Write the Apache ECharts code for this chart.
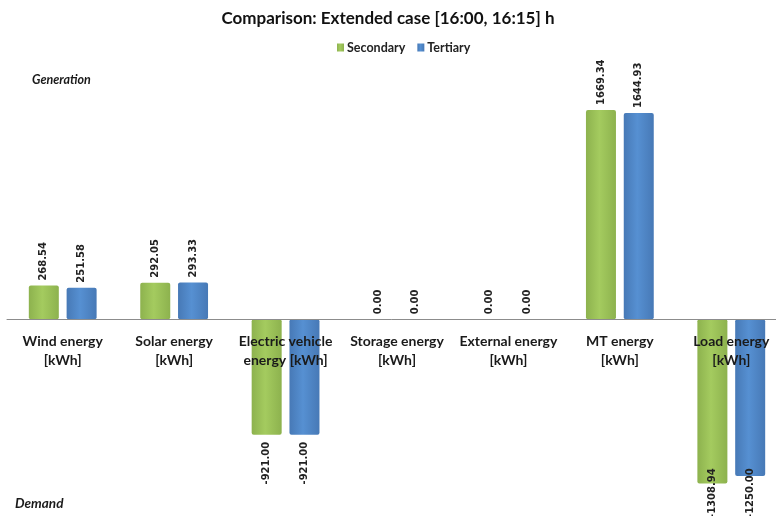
<!DOCTYPE html>
<html>
<head>
<meta charset="utf-8">
<script src="https://cdn.jsdelivr.net/npm/echarts@6/dist/echarts.min.js"></script>
<style>
  html, body { margin: 0; padding: 0; background: #fff; }
  #chart { width: 776px; height: 516px; }
</style>
</head>
<body>
<div id="chart"></div>
<script>
// Energy balance per source, kWh, for the [16:00, 16:15] interval
const categories = [
  'Wind energy\n[kWh]',
  'Solar energy\n[kWh]',
  'Electric vehicle\nenergy [kWh]',
  'Storage energy\n[kWh]',
  'External energy\n[kWh]',
  'MT energy\n[kWh]',
  'Load energy\n[kWh]'
];
const secondary = [268.54, 292.05, -921.00, 0.00, 0.00, 1669.34, -1308.94];
const tertiary = [251.58, 293.33, -921.00, 0.00, 0.00, 1644.93, -1250.00];

const labelFont = 'DejaVu Sans, Verdana, sans-serif';
const textFont = 'Lato, "Open Sans", sans-serif';

function barFill(edge, mid) {
  return new echarts.graphic.LinearGradient(0, 0, 1, 0, [
    { offset: 0, color: edge },
    { offset: 0.45, color: mid },
    { offset: 1, color: edge }
  ]);
}
const greenFill = barFill('#8db24e', '#a4cb5f');
const blueFill = barFill('#4779b6', '#5690d2');

// Labels sit past the bar end: above positive bars, below negative ones
function withLabels(values) {
  return values.map(v => ({
    value: v,
    label: v < 0
      ? { position: 'bottom', align: 'right', distance: 7 }
      : { position: 'top', align: 'left', distance: 5 }
  }));
}

const chart = echarts.init(document.getElementById('chart'), null, { renderer: 'canvas' });
const chartHeight = 516;

const valueLabel = {
  show: true,
  rotate: 90,
  verticalAlign: 'middle',
  fontFamily: labelFont,
  fontWeight: 'bold',
  fontSize: 10,
  color: '#222',
  formatter: p => p.value.toFixed(2)
};

// Keep labels of the deepest bars from running off the bottom edge.
// The labels are turned 90°, so their own x axis points up the page.
function clampLabel(params) {
  const r = params.labelRect;
  const overflow = r.y + r.height - (chartHeight + 2);
  return overflow > 0 ? { dx: overflow } : {};
}

// Value range of the plot; the zero line sits where the two grids meet
const yMin = -1600;
const yMax = 1800;
const plotTop = 93.6;
const plotBottom = -3.9;
const zeroY = 319.3;

chart.setOption({
  animation: false,
  backgroundColor: '#ffffff',
  title: {
    text: 'Comparison: Extended case [16:00, 16:15] h',
    left: 'center',
    top: 5,
    textStyle: { fontFamily: textFont, fontWeight: 'bold', fontSize: 17, color: '#111' }
  },
  legend: {
    top: 36,
    left: 332,
    itemWidth: 7,
    itemHeight: 8,
    itemGap: 12,
    icon: 'rect',
    textStyle: { fontFamily: textFont, fontWeight: 'bold', fontSize: 12.5, color: '#222', padding: [0, 0, 0, -2] },
    data: ['Secondary', 'Tertiary']
  },
  grid: [
    { left: 7, right: -11, top: plotTop, bottom: plotBottom, outerBoundsMode: 'none', containLabel: false },
    // label band: its bottom edge is the zero line
    { left: 7, right: -11, top: 0, height: zeroY, outerBoundsMode: 'none', containLabel: false }
  ],
  xAxis: [
    {
      type: 'category',
      gridIndex: 0,
      data: categories,
      axisLine: { show: false },
      axisTick: { show: false },
      axisLabel: { show: false }
    },
    {
      type: 'category',
      gridIndex: 1,
      position: 'bottom',
      data: categories,
      z: 10,
      axisLine: { show: true, lineStyle: { color: '#8c8c8c', width: 1 } },
      axisTick: { show: false },
      axisLabel: {
        interval: 0,
        margin: 13,
        lineHeight: 19,
        fontFamily: textFont,
        fontWeight: 'bold',
        fontSize: 14,
        color: '#1a1a1a'
      }
    }
  ],
  yAxis: [
    { type: 'value', gridIndex: 0, min: yMin, max: yMax, show: false, splitLine: { show: false } },
    { type: 'value', gridIndex: 1, min: 0, max: 1, show: false, splitLine: { show: false } }
  ],
  graphic: [
    {
      type: 'text', left: 32, top: 73,
      style: { text: 'Generation', fontFamily: textFont, fontStyle: 'italic', fontWeight: 'bold', fontSize: 12.5, fill: '#1a1a1a' }
    },
    {
      type: 'text', left: 15, top: 497,
      style: { text: 'Demand', fontFamily: textFont, fontStyle: 'italic', fontWeight: 'bold', fontSize: 13.5, fill: '#1a1a1a' }
    }
  ],
  series: [
    {
      name: 'Secondary',
      type: 'bar',
      barWidth: 30,
      barGap: '26%',
      data: withLabels(secondary),
      itemStyle: { color: greenFill, borderRadius: 2 },
      label: valueLabel,
      labelLayout: clampLabel
    },
    {
      name: 'Tertiary',
      type: 'bar',
      barWidth: 30,
      data: withLabels(tertiary),
      itemStyle: { color: blueFill, borderRadius: 2 },
      label: valueLabel,
      labelLayout: clampLabel
    }
  ]
});
</script>
</body>
</html>
